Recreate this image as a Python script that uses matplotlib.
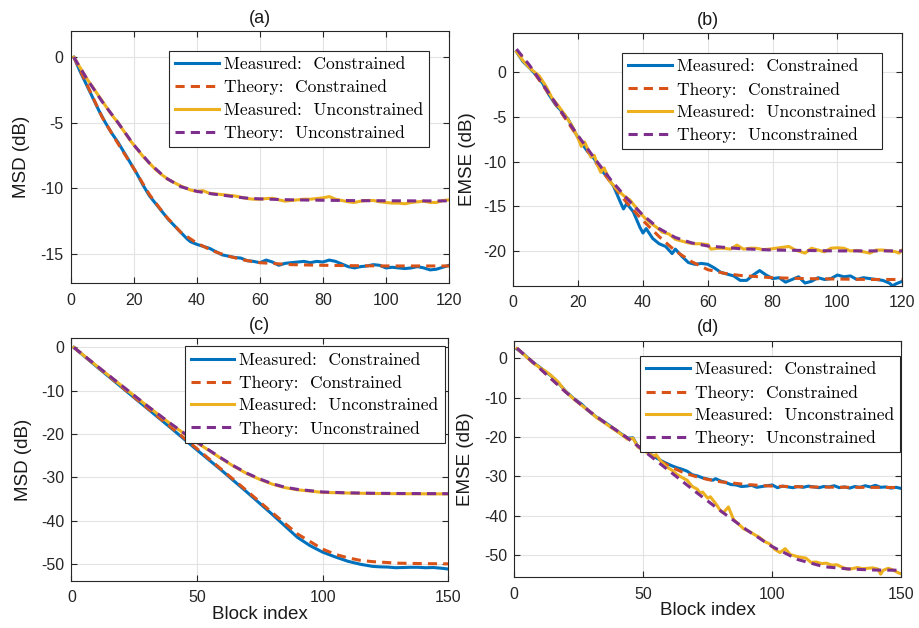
import matplotlib
matplotlib.use("Agg")
import matplotlib.pyplot as plt

plt.rcParams['font.family'] = ['Liberation Sans', 'DejaVu Sans']
plt.rcParams['axes.unicode_minus'] = False

# colours (MATLAB default order)
C_BLUE = '#0072BD'
C_ORANGE = '#D95319'
C_YELLOW = '#EDB120'
C_PURPLE = '#7E2F8E'

# ---------------- panel (a): MSD, 120 blocks ----------------
a_th_x = [1, 5, 10, 15, 20, 25, 30, 35, 40, 45, 50, 55, 60, 70, 80, 90, 100, 110, 120]
a_th_con = [0, -2.0, -4.6, -6.6, -8.5, -10.5, -12.1, -13.4, -14.2, -14.8, -15.2, -15.5,
            -15.7, -15.85, -15.9, -15.93, -15.95, -15.95, -15.95]
a_th_unc = [0, -1.6, -3.4, -5.0, -6.7, -8.1, -9.2, -9.9, -10.25, -10.45, -10.6, -10.75,
            -10.83, -10.9, -10.93, -10.96, -10.97, -10.98, -10.98]
a_ms_x = [1, 3, 5, 7, 9, 11, 13, 15, 17, 19, 21, 23, 25, 27, 29, 31, 33, 35, 37, 38, 40,
          42, 44, 46, 48, 50, 52, 54, 56, 58, 60, 62, 64, 66, 68, 70, 72, 74, 76, 78, 80,
          82, 84, 86, 88, 90, 92, 94, 96, 98, 100, 102, 104, 106, 108, 110, 112, 114,
          116, 118, 120]
a_ms_con = [0, -1.1, -2.1, -3.1, -4.1, -5.0, -5.8, -6.5, -7.3, -8.1, -8.9, -9.8, -10.6,
            -11.2, -11.8, -12.4, -12.9, -13.4, -13.9, -14.1, -14.3, -14.45, -14.6, -14.85,
            -15.1, -15.2, -15.3, -15.35, -15.55, -15.6, -15.7, -15.5, -15.65, -15.9,
            -15.75, -15.7, -15.65, -15.6, -15.7, -15.6, -15.65, -15.5, -15.6, -15.8,
            -16.0, -16.1, -16.0, -15.95, -15.85, -15.9, -16.1, -16.05, -16.1, -16.15,
            -16.1, -16.0, -16.1, -16.25, -16.2, -16.05, -15.9]
a_ms_unc = [0, -0.8, -1.6, -2.3, -3.0, -3.7, -4.4, -5.0, -5.7, -6.4, -7.0, -7.6, -8.1,
            -8.6, -9.0, -9.35, -9.6, -9.85, -10.05, -10.15, -10.25, -10.2, -10.4, -10.45,
            -10.5, -10.55, -10.6, -10.7, -10.8, -10.85, -10.85, -10.8, -10.78, -10.9,
            -11.0, -10.95, -10.9, -10.85, -10.85, -10.8, -10.75, -10.65, -10.85, -10.95,
            -11.05, -11.1, -11.0, -10.95, -10.95, -11.05, -11.1, -11.15, -11.15, -11.2,
            -11.1, -11.05, -11.0, -11.1, -11.1, -10.95, -10.9]

# ---------------- panel (b): EMSE, 120 blocks ----------------
b_thc_x = [1, 5, 10, 15, 20, 25, 30, 35, 40, 45, 50, 55, 60, 65, 70, 80, 90, 100, 110, 120]
b_th_con = [2.5, 0.7, -1.9, -4.6, -7.3, -9.9, -12.3, -14.6, -16.6, -18.4, -20.0, -21.2,
            -22.1, -22.5, -22.75, -23.0, -23.1, -23.15, -23.2, -23.2]
b_thu_x = [1, 5, 10, 15, 20, 25, 30, 35, 40, 45, 50, 55, 60, 70, 80, 90, 100, 110, 120]
b_th_unc = [2.6, 0.8, -1.8, -4.5, -7.1, -9.6, -12.0, -14.1, -16.0, -17.5, -18.5, -19.1,
            -19.45, -19.75, -19.9, -19.95, -20.0, -20.0, -20.0]
b_msc_x = [1, 3, 5, 7, 9, 11, 13, 15, 17, 19, 21, 23, 25, 27, 29, 31, 33, 34, 35, 37, 39,
           40, 41, 43, 45, 47, 49, 50, 52, 54, 56, 58, 60, 62, 64, 66, 68, 70, 72, 74, 76,
           78, 80, 82, 84, 86, 88, 90, 92, 94, 96, 98, 100, 102, 104, 106, 108, 110, 112,
           114, 116, 117, 118, 120]
b_ms_con = [2.3, 1.2, 0.5, -0.3, -1.2, -2.5, -3.6, -4.4, -5.3, -6.7, -7.9, -8.9, -9.7,
            -10.9, -11.7, -12.8, -14.5, -15.3, -14.7, -15.6, -17.3, -18.0, -17.5, -18.6,
            -19.2, -19.5, -20.3, -19.8, -20.6, -21.3, -21.5, -21.4, -21.5, -21.9, -22.4,
            -22.6, -22.8, -23.3, -23.3, -22.7, -22.2, -22.7, -23.1, -23.0, -23.5, -23.2,
            -22.9, -23.6, -23.4, -23.0, -23.2, -23.1, -22.7, -22.9, -22.8, -23.2, -23.0,
            -23.1, -23.2, -23.3, -23.6, -23.9, -23.7, -23.4]
b_msu_x = [1, 3, 5, 7, 8, 10, 12, 14, 16, 18, 20, 21, 22, 23, 24, 25, 26, 27, 28, 29, 30,
           32, 34, 36, 38, 40, 42, 44, 46, 48, 50, 52, 54, 56, 58, 60, 61, 63, 65, 67, 69,
           71, 73, 75, 77, 79, 81, 83, 85, 87, 90, 92, 94, 96, 98, 100, 102, 104, 106,
           108, 110, 112, 114, 116, 118, 119, 120]
b_ms_unc = [2.3, 1.3, 0.5, -0.1, -0.4, -1.5, -2.9, -3.8, -4.8, -5.9, -7.4, -8.3, -7.8,
            -8.6, -9.5, -9.3, -10.4, -11.2, -10.7, -11.5, -12.3, -13.1, -13.8, -14.3,
            -15.2, -16.1, -16.8, -17.3, -17.9, -18.1, -18.7, -18.9, -19.1, -19.2, -19.2,
            -19.3, -19.8, -19.7, -19.7, -19.8, -19.35, -19.8, -19.7, -19.7, -19.85, -19.8,
            -19.7, -19.6, -19.5, -19.9, -20.25, -19.7, -19.9, -20.1, -19.7, -19.65, -19.7,
            -20.0, -19.95, -20.1, -20.25, -19.9, -19.9, -20.0, -20.1, -20.25, -19.9]

# ---------------- panel (c): MSD, 150 blocks ----------------
c_thc_x = [1, 10, 20, 30, 40, 50, 60, 70, 80, 90, 100, 105, 110, 115, 120, 130, 140, 150]
c_th_con = [0, -4.3, -9.1, -13.9, -18.6, -23.4, -28.3, -33.2, -38.2, -43.1, -46.6, -47.8,
            -48.6, -49.2, -49.5, -49.85, -49.95, -50.0]
c_msc_x = [1, 10, 20, 30, 40, 50, 60, 70, 80, 90, 95, 100, 105, 110, 115, 120, 123, 126,
           129, 132, 135, 138, 141, 144, 147, 150]
c_ms_con = [0, -4.4, -9.2, -14.0, -18.8, -23.7, -28.5, -33.5, -38.6, -43.9, -45.8, -47.3,
            -48.4, -49.4, -50.1, -50.6, -50.7, -50.75, -50.9, -50.85, -50.8, -50.8, -50.9,
            -50.85, -51.0, -51.2]
c_u_x = [1, 10, 20, 30, 40, 50, 60, 65, 70, 75, 80, 85, 90, 100, 110, 120, 130, 150]
c_th_unc = [0, -4.2, -8.8, -13.4, -17.8, -21.9, -25.7, -27.5, -29.1, -30.4, -31.5, -32.3,
            -32.8, -33.4, -33.6, -33.7, -33.75, -33.8]
c_ms_unc = [0, -4.25, -8.85, -13.45, -17.9, -22.0, -25.8, -27.6, -29.2, -30.5, -31.6,
            -32.4, -32.9, -33.5, -33.65, -33.75, -33.8, -33.85]

# ---------------- panel (d): EMSE, 150 blocks ----------------
d_thu_x = [1, 5, 10, 15, 20, 25, 30, 35, 40, 45, 50, 55, 60, 70, 80, 90, 100, 110, 120,
           130, 140, 150]
d_th_unc = [2.6, 0.3, -2.6, -5.6, -8.6, -11.3, -13.9, -16.3, -18.5, -20.8, -23.4, -26.0,
            -28.6, -33.8, -38.8, -43.6, -47.9, -51.2, -53.0, -53.6, -53.85, -53.9]
d_thc_x = [1, 5, 10, 15, 20, 25, 30, 35, 40, 45, 50, 55, 60, 65, 70, 75, 80, 90, 100, 110,
           120, 130, 150]
d_th_con = [2.6, 0.3, -2.6, -5.6, -8.6, -11.3, -13.9, -16.3, -18.5, -20.8, -23.3, -25.5,
            -27.4, -28.9, -30.0, -30.8, -31.4, -32.1, -32.5, -32.65, -32.75, -32.8, -32.85]
d_msc_x = [1, 4, 7, 10, 12, 14, 17, 20, 23, 26, 29, 32, 35, 38, 41, 44, 46, 48, 50, 52, 55,
           58, 61, 63, 65, 67, 69, 71, 73, 75, 77, 78, 80, 82, 84, 86, 88, 90, 92, 94, 96,
           98, 100, 102, 104, 106, 108, 110, 112, 114, 116, 118, 120, 122, 124, 126, 128,
           130, 132, 134, 136, 138, 140, 142, 144, 146, 148, 150]
d_ms_con = [2.4, 0.9, -0.9, -2.3, -3.4, -4.3, -6.2, -8.4, -10.2, -11.6, -13.5, -15.0,
            -16.2, -17.6, -19.0, -20.3, -20.2, -22.5, -23.0, -24.0, -25.3, -26.4, -27.3,
            -27.8, -28.2, -28.7, -29.6, -29.9, -30.4, -30.7, -31.0, -30.6, -31.2, -31.6,
            -32.1, -32.2, -32.6, -32.5, -32.3, -32.8, -32.6, -32.4, -32.2, -32.9, -32.5,
            -32.7, -32.9, -32.6, -32.8, -32.5, -32.7, -32.9, -32.6, -32.7, -32.4, -32.9,
            -32.7, -33.0, -32.6, -32.8, -32.4, -32.7, -32.3, -32.8, -32.7, -33.0, -32.8,
            -33.1]
d_msu_x = [1, 4, 7, 10, 12, 14, 17, 20, 23, 26, 29, 32, 35, 38, 41, 44, 46, 48, 50, 52, 54,
           55, 57, 59, 61, 63, 65, 67, 69, 71, 72, 73, 75, 76, 78, 80, 81, 83, 85, 87, 89,
           91, 93, 95, 97, 99, 101, 103, 105, 107, 109, 111, 113, 115, 117, 119, 121, 123,
           125, 127, 129, 131, 133, 135, 137, 139, 141, 142, 143, 145, 147, 149, 150]
d_ms_unc = [2.5, 0.8, -1.0, -2.4, -3.2, -4.2, -6.0, -8.5, -10.3, -11.9, -13.4, -15.1,
            -16.4, -17.8, -19.1, -20.6, -20.3, -22.6, -23.3, -24.2, -24.8, -24.5, -26.3,
            -27.6, -28.4, -29.5, -30.3, -31.0, -32.6, -33.3, -34.3, -34.0, -35.6, -35.2,
            -36.9, -38.8, -39.3, -37.8, -41.0, -42.2, -43.4, -44.0, -44.8, -45.5, -46.6,
            -47.2, -48.6, -49.4, -48.4, -49.9, -50.3, -50.6, -50.8, -51.9, -51.8, -52.2,
            -52.1, -52.6, -52.5, -53.1, -53.6, -53.5, -53.2, -53.5, -53.4, -53.3, -53.6,
            -54.9, -53.9, -53.4, -53.9, -54.6, -54.8]

labels = ['Measured:  Constrained', 'Theory:  Constrained',
          'Measured:  Unconstrained', 'Theory:  Unconstrained']

fig = plt.figure(figsize=(9.19, 6.28), dpi=100)

panels = [
    # rect, title, ylabel, xlim, ylim, xticks, yticks, legend anchor, ylabel x, xlabel
    ([0.0769, 0.5494, 0.4117, 0.4013], '(a)', 'MSD (dB)', (0, 120), (-17.25, 2.0),
     range(0, 121, 20), [-15, -10, -5, 0], (0.947, 0.921), -0.108, None),
    ([0.5585, 0.5450, 0.4233, 0.4024], '(b)', 'EMSE (dB)', (0, 120), (-23.9, 4.4),
     range(0, 121, 20), [-20, -15, -10, -5, 0], (0.9486, 0.921), -0.096, None),
    ([0.0776, 0.0753, 0.4102, 0.3860], '(c)', 'MSD (dB)', (0, 150), (-53.9, 2.1),
     range(0, 151, 50), [-50, -40, -30, -20, -10, 0], (0.990, 0.967), -0.105, 'Block index'),
    ([0.5596, 0.0807, 0.4211, 0.3768], '(d)', 'EMSE (dB)', (0, 150), (-55.7, 4.5),
     range(0, 151, 50), [-50, -40, -30, -20, -10, 0], (0.9966, 0.935), -0.104, 'Block index'),
]

series = [
    ((a_ms_x, a_ms_con), (a_th_x, a_th_con), (a_ms_x, a_ms_unc), (a_th_x, a_th_unc)),
    ((b_msc_x, b_ms_con), (b_thc_x, b_th_con), (b_msu_x, b_ms_unc), (b_thu_x, b_th_unc)),
    ((c_msc_x, c_ms_con), (c_thc_x, c_th_con), (c_u_x, c_ms_unc), (c_u_x, c_th_unc)),
    ((d_msc_x, d_ms_con), (d_thc_x, d_th_con), (d_msu_x, d_ms_unc), (d_thu_x, d_th_unc)),
]

for (rect, title, ylab, xl, yl, xt, yt, anchor, ylx, xlab), ser in zip(panels, series):
    ax = fig.add_axes(rect)
    (mcx, mcy), (tcx, tcy), (mux, muy), (tux, tuy) = ser
    ax.plot(mcx, mcy, color=C_BLUE, lw=2.2, label=labels[0])
    ax.plot(tcx, tcy, color=C_ORANGE, lw=2.2, ls=(0, (3.0, 2.0)), label=labels[1])
    ax.plot(mux, muy, color=C_YELLOW, lw=2.2, label=labels[2])
    ax.plot(tux, tuy, color=C_PURPLE, lw=2.2, ls=(0, (3.0, 2.0)), label=labels[3])

    ax.set_xlim(*xl)
    ax.set_ylim(*yl)
    ax.set_xticks(list(xt))
    ax.set_yticks(yt)
    ax.grid(True, color='#e3e3e3', lw=0.8)
    ax.set_axisbelow(True)
    ax.tick_params(direction='in', top=True, right=True, length=4, width=0.8,
                   color='#262626', labelcolor='#262626', labelsize=11.5)
    ax.tick_params(axis='x', pad=7)
    ax.tick_params(axis='y', pad=5)
    for sp in ax.spines.values():
        sp.set_color('#262626')
        sp.set_linewidth(0.8)

    ax.set_title(title, fontsize=13, color='#1a1a1a', pad=6)
    ax.set_ylabel(ylab, fontsize=13.5, color='#1a1a1a')
    ax.yaxis.set_label_coords(ylx, 0.5)
    if xlab:
        ax.set_xlabel(xlab, fontsize=13.5, color='#1a1a1a')
        ax.xaxis.set_label_coords(0.5, -0.104)

    leg = ax.legend(loc='upper right', bbox_to_anchor=anchor, borderaxespad=0,
                    prop={'family': 'cmr10', 'size': 12.5}, fancybox=False,
                    framealpha=1, edgecolor='#262626', handlelength=2.5,
                    handletextpad=0.3, labelspacing=0.42, borderpad=0.35)
    leg.get_frame().set_linewidth(0.8)

fig.savefig('out.png', dpi=100)
